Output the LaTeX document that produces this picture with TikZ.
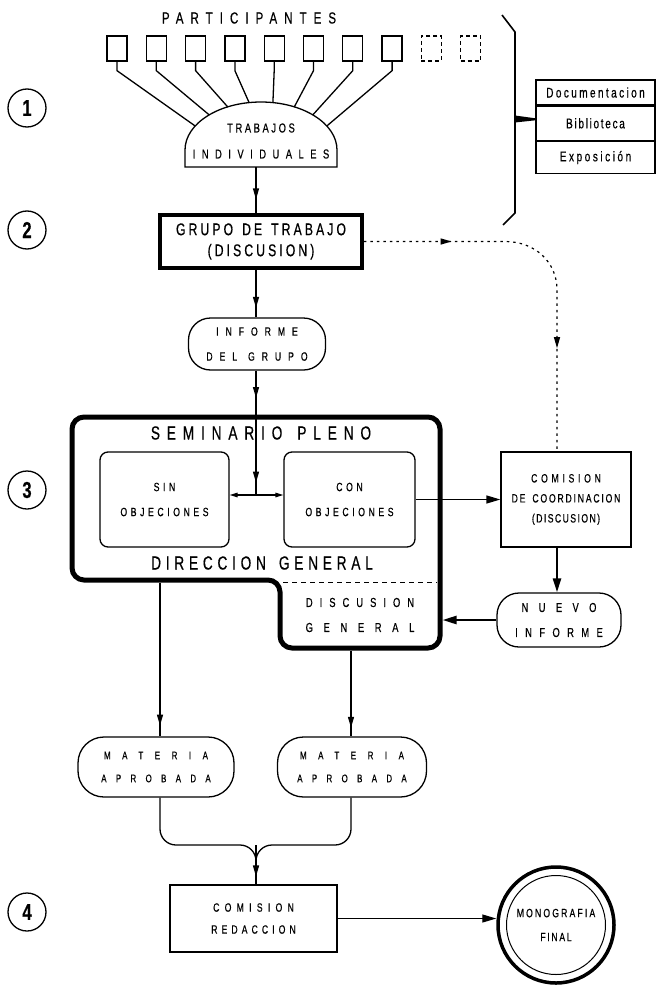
\documentclass[tikz,border=0pt]{standalone}
\usepackage{fontspec}
\setmainfont{Liberation Sans}[FakeStretch=0.72,FakeBold=0.5]
\usetikzlibrary{arrows.meta,decorations.markings,calc}
\newcommand\Tx[3]{\fontsize{#1}{#2}\selectfont\addfontfeatures{LetterSpace=#3}}
\newcommand\Ls[1]{\addfontfeatures{LetterSpace=#1}}
\newcommand\wg[1]{\hspace*{#1}}
\tikzset{
  Tr/.tip={Triangle[length=11pt,width=6pt]},
  Ts/.tip={Triangle[length=8pt,width=4.5pt]},
  Tb/.tip={Triangle[length=14pt,width=8pt]},
  ln/.style={line width=1.3pt},
  heavy/.style={line width=2.4pt},
  box/.style={draw, line width=1.3pt, align=center, inner sep=0pt},
  pill/.style={box, rounded corners=22pt},
  sq/.style={draw, line width=1.3pt, minimum width=20pt, minimum height=25pt, inner sep=0pt},
  dsq/.style={sq, dash pattern=on 4pt off 3pt},
  numc/.style={draw, circle, line width=1.3pt, minimum size=38pt, inner sep=0pt, font=\fontsize{23}{23}\selectfont\bfseries},
  marr/.style={postaction={decorate,decoration={markings,mark=at position #1 with {\arrow{Tr}}}}},
  dotline/.style={line width=1.2pt, dash pattern=on 2.5pt off 4pt},
}
\begin{document}
\begin{tikzpicture}[x=1pt,y=-1pt]
\useasboundingbox (0,0) rectangle (659,990);

% step numbers
\node[numc] (n1) at (27,108) {1};
\node[numc] (n2) at (27,230) {2};
\node[numc] (n3) at (27,490) {3};
\node[numc] (n4) at (27,912) {4};

% participants
\node[font={\Tx{16}{16}{44}}] (part) at (249,18) {PARTICIPANTES};
\foreach \i in {1,...,8} \node[sq] (p\i) at ({117+39.3*(\i-1)},48.5) {};
\node[dsq] (p9) at (431.4,48.5) {};
\node[dsq] (p10) at (470.7,48.5) {};

% dome
\draw[ln] (185,167) -- (185,150) .. controls (185,123.5) and (219,102) .. (261,102)
  .. controls (303,102) and (337,123.5) .. (337,150) -- (337,167) -- cycle;
\node[align=center, font={\Tx{13}{26}{20}}] (dome) at (261,141) {TRABAJOS\\\Ls{50}INDIVIDUALES};
\foreach \i/\x/\y in {1/195.2/126,2/209.2/114.9,3/227.7/106.9,4/249.1/102.6,5/272.9/102.6,6/294.3/106.9,7/312.8/114.9,8/326.8/126}{
  \coordinate (d\i) at (\x,\y);
  \draw[ln] (p\i.south) -- ++(0,9) -- (d\i);
}
\coordinate (domeb) at (256,167);

% brace and documentation box
\node[box, minimum width=119pt, minimum height=25pt, font={\Tx{14}{14}{17}}] (doc) at (595.5,92.5) {Documentacion};
\node[box, minimum width=119pt, minimum height=34pt, anchor=north, font={\Tx{14}{14}{12}}] (bib) at (doc.south) {Biblioteca};
\node[box, minimum width=119pt, minimum height=32pt, anchor=north, font={\Tx{14}{14}{18}}] (expo) at (bib.south) {Exposición};
\draw[line width=1.6pt] (502,15) -- (515,32) -- (515,213) -- (503,225);
\fill (515,115.5) -- ($(bib.west)+(0,-5)$) -- ($(bib.west)+(0,-3)$) -- (515,122.5) -- cycle;

% group
\node[box, line width=3.5pt, minimum width=202pt, minimum height=53pt, font={\Tx{17}{21}{18}}] (grupo) at (261,241.5) {GRUPO\wg{9pt}DE\wg{9pt}TRABAJO\\(DISCUSION)};
\draw[ln, marr=0.7] (domeb) -- (grupo.north -| domeb);

\node[pill, minimum width=137pt, minimum height=52pt, font={\Tx{12}{25}{58}}] (inf) at (257,344) {INFORME\\DEL\wg{11pt}GRUPO};
\draw[ln, marr=0.8] (grupo.south -| domeb) -- (inf.north -| domeb);

% seminar
\draw[line width=5pt, rounded corners=12pt] (256,417) -- (440,417) -- (440,648) -- (280,648) -- (280,580) -- (72,580) -- (72,417) -- cycle;
\node[font={\Tx{19}{19}{36}}] (sp) at (261,433) {SEMINARIO\wg{15pt}PLENO};
\node[font={\Tx{19}{19}{25}}] (dg) at (262,563) {DIRECCION\wg{13pt}GENERAL};
\node[box, rounded corners=8pt, minimum width=129pt, minimum height=95pt, font={\Tx{12}{25}{30}}] (sin) at (164.5,499.5) {SIN\\OBJECIONES};
\node[box, rounded corners=8pt, minimum width=131pt, minimum height=95pt, font={\Tx{12}{25}{30}}] (con) at (349.5,499.5) {CON\\OBJECIONES};
\coordinate (jn) at (256,495);
\draw[ln, marr=0.22, marr=0.9] (inf.south -| domeb) -- (jn);
\draw[ln, {Ts}-{Ts}] (sin.east |- jn) -- (con.west |- jn);
\draw[line width=1pt, dash pattern=on 5pt off 4pt] (283,582) -- (437,582);
\node[align=center, font={\Tx{13}{25}{54}}] (dgen) at (360,615) {DISCUSION\\\Ls{82}GENERAL};

% coordination
\node[box, minimum width=130pt, minimum height=95pt, font={\Tx{12}{20}{31}}] (comc) at (566,499.5) {COMISION\\\Ls{15}DE\wg{7pt}COORDINACION\\\Ls{12}(DISCUSION)};
\draw[ln, -{Tb}] (con.east) -- (comc.west);
\coordinate (dv) at (557,290);
\draw[dotline, marr=0.23, marr=0.73] (grupo.east) -- (505,241.5) .. controls (535,241.5) and (557,262) .. (dv) -- (comc.north -| dv);

\node[pill, minimum width=124pt, minimum height=54pt, font={\Tx{13}{25}{80}}] (nuevo) at (559,620) {NUEVO\\\Ls{57}INFORME};
\draw[heavy, -{Tb}] (comc.south -| dv) -- (nuevo.north -| dv);
\coordinate (semR) at (442.5,620);
\draw[heavy, -{Tb}] (nuevo.west) -- (semR);

% approved material
\coordinate (semBL) at (160,582.5);
\coordinate (semBR) at (351,650.5);
\node[pill, rounded corners=26pt, minimum width=156pt, minimum height=60pt, font={\Tx{11}{23}{105}}] (m1) at (156,767) {MATERIA\\\Ls{85}APROBADA};
\node[pill, rounded corners=26pt, minimum width=149pt, minimum height=60pt, font={\Tx{11}{23}{105}}] (m2) at (352,767) {MATERIA\\\Ls{85}APROBADA};
\draw[ln, marr=0.93] (semBL) -- (m1.north -| semBL);
\draw[ln, marr=0.9] (semBR) -- (m2.north -| semBR);

% redaction
\node[box, minimum width=167pt, minimum height=67pt, font={\Tx{12}{22}{44}}] (cr) at (253.5,918.5) {COMISION\\\Ls{34}REDACCION};
\coordinate (mj) at (256,845);
\draw[ln, rounded corners=16pt] (m1.south -| semBL) -- (160,845) -- (mj) -- (cr.north -| mj);
\draw[ln, rounded corners=16pt] (m2.south -| semBR) -- (351,845) -- (mj) -- (cr.north -| mj);
\draw[ln, marr=0.8] (mj) -- (cr.north -| mj);

% monograph
\node[draw, circle, line width=3.5pt, minimum size=116pt] (mono) at (556,925) {};
\node[draw, circle, line width=1pt, minimum size=99pt, align=center, font={\Tx{12}{24}{18}}] (monoi) at (mono.center) {MONOGRAFIA\\\Ls{14}FINAL};
\draw[ln, -{Tb}] (cr.east) -- (mono.west |- cr.east);
\end{tikzpicture}
\end{document}
